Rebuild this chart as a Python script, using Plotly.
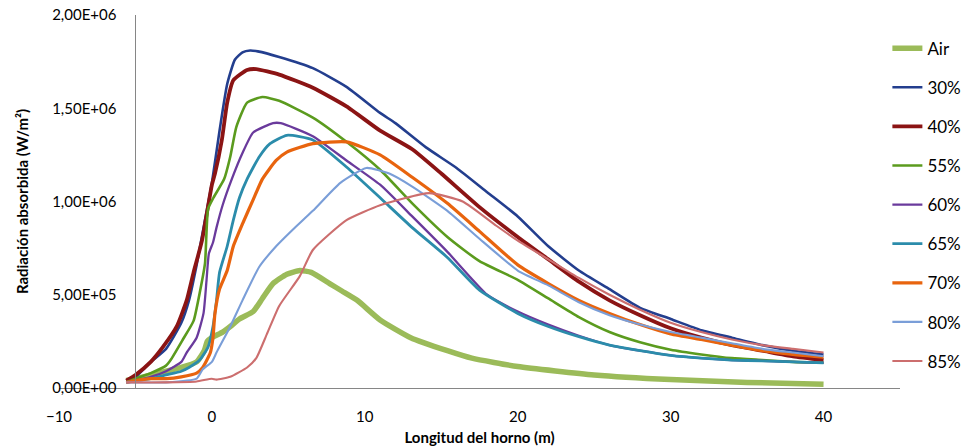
import plotly.graph_objects as go

# ---- data (x in m, y in 1e6 W/m2) ----
x_air = [-5.6, -5, -4, -3, -2, -1, -0.5, -0.3, 0, 0.7, 1.2, 1.8, 2.7, 3.3, 4, 4.9, 5.75, 6.5, 7.7, 8.5, 9.5, 11, 13, 15.4, 17, 20, 25, 30, 35, 40]
y_air = [0.04, 0.05, 0.07, 0.09, 0.11, 0.14, 0.2, 0.25, 0.27, 0.3, 0.33, 0.37, 0.41, 0.48, 0.56, 0.61, 0.63, 0.62, 0.56, 0.52, 0.47, 0.365, 0.27, 0.2, 0.16, 0.115, 0.07, 0.045, 0.03, 0.02]

x_30 = [-5.6, -5, -4, -3, -2, -1.5, -1, -0.5, 0, 0.5, 1, 1.5, 2, 2.5, 3, 4.4, 6.6, 8.8, 11, 12, 14, 16, 18, 20, 22, 24, 26, 28, 30, 32, 34, 36, 38, 40]
y_30 = [0.04, 0.06, 0.14, 0.21, 0.35, 0.47, 0.66, 0.88, 1.10, 1.38, 1.63, 1.76, 1.80, 1.81, 1.805, 1.775, 1.715, 1.615, 1.475, 1.42, 1.29, 1.18, 1.05, 0.92, 0.76, 0.63, 0.53, 0.43, 0.37, 0.31, 0.27, 0.23, 0.20, 0.18]

x_40 = [-5.6, -5, -4, -3.2, -2.3, -1.65, -1.2, -0.65, 0, 0.2, 0.65, 1, 1.4, 2.3, 2.9, 4.4, 6.6, 8.8, 11, 13.1, 15, 17.5, 20, 22, 24, 26, 28, 30, 32, 34, 36, 38, 40]
y_40 = [0.04, 0.07, 0.14, 0.22, 0.33, 0.47, 0.62, 0.79, 1.09, 1.15, 1.33, 1.53, 1.65, 1.705, 1.71, 1.68, 1.61, 1.51, 1.38, 1.28, 1.15, 0.97, 0.81, 0.69, 0.57, 0.47, 0.39, 0.32, 0.27, 0.23, 0.2, 0.17, 0.15]

x_55 = [-5.6, -5, -4, -3, -2.7, -1.9, -1.2, -0.8, -0.45, -0.25, 0.1, 0.8, 1.2, 1.6, 2.3, 3.3, 4.4, 6.6, 8.8, 11, 13.1, 15.4, 17.5, 20, 22, 24, 26, 28, 30, 32, 34, 36, 38, 40]
y_55 = [0.03, 0.05, 0.08, 0.12, 0.15, 0.26, 0.36, 0.51, 0.67, 0.96, 1.02, 1.12, 1.24, 1.40, 1.53, 1.56, 1.54, 1.45, 1.32, 1.17, 0.99, 0.81, 0.68, 0.58, 0.48, 0.38, 0.30, 0.245, 0.205, 0.18, 0.16, 0.15, 0.14, 0.135]

x_60 = [-5.6, -5, -4, -3, -2, -1.65, -1, -0.55, -0.35, -0.2, 0.07, 0.3, 0.7, 1.3, 2, 2.7, 4, 4.5, 6.6, 8.8, 11, 13.1, 15.4, 18, 20, 22, 24, 26, 28, 30, 32, 34, 36, 38, 40]
y_60 = [0.03, 0.04, 0.06, 0.09, 0.14, 0.19, 0.27, 0.4, 0.58, 0.72, 0.78, 0.86, 0.98, 1.12, 1.26, 1.37, 1.42, 1.42, 1.35, 1.22, 1.09, 0.92, 0.73, 0.5, 0.41, 0.34, 0.28, 0.23, 0.2, 0.175, 0.16, 0.15, 0.145, 0.14, 0.135]

x_65 = [-5.6, -5, -4, -3, -2, -1.5, -0.8, -0.25, 0.07, 0.3, 0.5, 1, 1.4, 1.8, 2.3, 3.1, 3.8, 4.9, 6.6, 8.8, 11, 13.1, 15.4, 17.5, 20, 22, 24, 26, 28, 30, 32, 34, 36, 38, 40]
y_65 = [0.03, 0.04, 0.05, 0.07, 0.09, 0.11, 0.15, 0.22, 0.33, 0.47, 0.62, 0.76, 0.9, 1.02, 1.12, 1.24, 1.31, 1.355, 1.33, 1.185, 1.02, 0.86, 0.70, 0.525, 0.40, 0.33, 0.275, 0.23, 0.2, 0.175, 0.16, 0.15, 0.145, 0.14, 0.135]

x_70 = [-5.6, -5, -4, -3, -2, -1, -0.6, -0.1, 0.07, 0.2, 0.5, 1, 1.4, 2, 2.7, 3.3, 4.2, 4.9, 6.6, 8.8, 11, 13.1, 15.4, 17.5, 20, 22, 24, 26, 28, 30, 32, 34, 36, 38, 40]
y_70 = [0.03, 0.04, 0.05, 0.05, 0.06, 0.08, 0.11, 0.19, 0.27, 0.4, 0.53, 0.63, 0.76, 0.88, 1.01, 1.12, 1.22, 1.265, 1.31, 1.32, 1.25, 1.13, 0.99, 0.84, 0.66, 0.56, 0.47, 0.40, 0.34, 0.29, 0.26, 0.23, 0.2, 0.18, 0.165]

x_80 = [-5.6, -5, -3, -1, -0.6, 0, 0.3, 1.2, 2, 3.1, 4.2, 5.3, 6.6, 8.4, 10.1, 11.6, 13.1, 15.4, 17.5, 20, 22, 24, 26, 28, 30, 32, 34, 36, 38, 40]
y_80 = [0.03, 0.03, 0.03, 0.05, 0.1, 0.14, 0.19, 0.33, 0.47, 0.65, 0.76, 0.85, 0.95, 1.1, 1.18, 1.15, 1.08, 0.95, 0.80, 0.63, 0.55, 0.46, 0.39, 0.34, 0.30, 0.27, 0.24, 0.21, 0.19, 0.17]

x_85 = [-5.6, -5, -3, -1, 0, 0.3, 1.2, 2.3, 2.9, 3.6, 4.4, 5.75, 6.6, 8.8, 11, 14.2, 16.4, 18.6, 20, 22, 24, 26, 28, 30, 32, 34, 36, 38, 40]
y_85 = [0.03, 0.03, 0.03, 0.035, 0.05, 0.045, 0.06, 0.11, 0.16, 0.29, 0.44, 0.6, 0.74, 0.9, 0.98, 1.045, 1.0, 0.87, 0.79, 0.69, 0.59, 0.5, 0.42, 0.35, 0.3, 0.26, 0.23, 0.21, 0.19]

series_names = ["Air", "30%", "40%", "55%", "60%", "65%", "70%", "80%", "85%"]
series_x = [x_air, x_30, x_40, x_55, x_60, x_65, x_70, x_80, x_85]
series_y = [y_air, y_30, y_40, y_55, y_60, y_65, y_70, y_80, y_85]
colors = ["#9BBB59", "#233E8E", "#8B1414", "#5B9B1E", "#6A3A9C", "#2B8CAB", "#E8640E", "#7A9ED8", "#CC6E6E"]
widths = [5.5, 2.6, 3.8, 2.6, 2.3, 2.8, 3.2, 2.1, 2.1]

yticks = [0, 0.5e6, 1.0e6, 1.5e6, 2.0e6]
yticktext = ["0,00E+00", "5,00E+05", "1,00E+06", "1,50E+06", "2,00E+06"]
xticks = [-10, 0, 10, 20, 30, 40]

FONT = "Lato"

fig = go.Figure()
for i, (name, xs, ys) in enumerate(zip(series_names, series_x, series_y)):
    fig.add_trace(go.Scatter(
        x=xs, y=[v * 1e6 for v in ys], name=name, mode="lines",
        line=dict(color=colors[i], width=widths[i], shape="spline", smoothing=0.5),
        legendgroup=name,
    ))

fig.update_layout(
    width=964, height=448,
    margin=dict(l=59, r=64, t=15, b=60, autoexpand=False),
    paper_bgcolor="white", plot_bgcolor="white",
    font=dict(family=FONT, size=15, color="#000000"),
    showlegend=True,
    legend=dict(x=0.985, xanchor="left", y=0.958, yanchor="top",
                font=dict(family=FONT, size=17, color="#000000"),
                tracegroupgap=14, bgcolor="rgba(0,0,0,0)"),
    xaxis=dict(range=[-10, 45], tickvals=xticks, showgrid=False, zeroline=False,
               showline=True, linecolor="#868686", linewidth=1, ticks="",
               ticklabelstandoff=15, tickfont=dict(size=15), automargin=False,
               title=dict(text="<b>Longitud del horno (m)</b>", font=dict(size=15), standoff=8)),
    yaxis=dict(range=[0, 2.0e6], tickvals=yticks, ticktext=yticktext, showgrid=False,
               zeroline=False, showline=True, linecolor="#868686", linewidth=1,
               anchor="free", position=5 / 55, ticks="", ticklabelstandoff=16,
               tickfont=dict(size=15), automargin=False,
               title=dict(text="<b>Radiación absorbida (W/m²)</b>", font=dict(size=15), standoff=18)),
)

fig.write_html("out.html")
